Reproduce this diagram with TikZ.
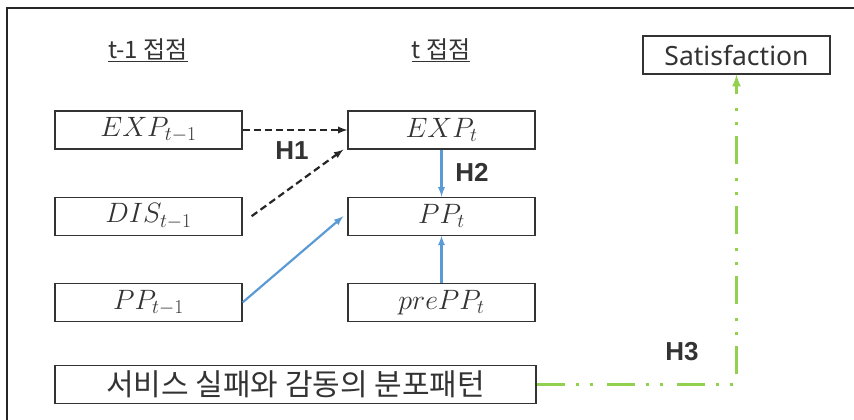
\RequirePackage{fix-cm}
\documentclass[tikz,border=0pt]{standalone}
\usepackage{fontspec}
\setmainfont{Noto Sans}
\newfontfamily\kr{Noto Sans CJK KR}
\newfontfamily\hfont{Liberation Sans}
\usetikzlibrary{positioning}
\definecolor{ppblue}{HTML}{5B9BD5}
\definecolor{hgreen}{HTML}{92D050}
\definecolor{txtgray}{HTML}{333333}
\tikzset{
	varbox/.style={draw=black!80,line width=1.2pt,minimum width=187pt,minimum height=38pt,inner sep=0pt,text=txtgray,font=\fontsize{28}{32}\selectfont},
	hyplabel/.style={text=txtgray,font=\hfont\fontsize{26}{30}\selectfont\bfseries},
	headlabel/.style={text=txtgray,font=\kr\fontsize{24}{28}\selectfont},
	darrow/.style={->,line width=2.2pt,black!85,dash pattern=on 7pt off 4pt},
	barrow/.style={->,line width=2.2pt,ppblue},
	garrow/.style={->,line width=3pt,hgreen,dash pattern=on 28pt off 11pt on 3pt off 11pt on 3pt off 14pt}
}
\begin{document}
\begin{tikzpicture}[>=latex,x=1pt,y=-1pt]
		\useasboundingbox (0,0) rectangle (854,420);
		\draw[line width=1.2pt,black!85] (7,420) -- (7,8) -- (854,8);
		\node[headlabel] (hpre) at (148,50) {\underline{t-1 접점}};
		\node[headlabel] (hcur) at (441,50) {\underline{t 접점}};
		\foreach \name/\x/\lab in {exppre/148.5/{EXP_{t-1}},expt/441.5/{EXP_t}}
			{\node[varbox] (\name) at (\x,130) {$\lab$};};
		\node[varbox,below=47pt of exppre] (dispre) {$DIS_{t-1}$};
		\node[varbox,below=47pt of dispre] (pppre) {$PP_{t-1}$};
		\node[varbox,below=47pt of expt] (ppt) {$PP_t$};
		\node[varbox,below=47pt of ppt] (preppt) {$prePP_t$};
		\node[varbox,minimum width=481pt,font=\kr\fontsize{30}{34}\selectfont] (pattern) at (295.5,384.5) {서비스 실패와 감동의 분포패턴};
		\node[varbox,font=\fontsize{26.5}{30}\selectfont] (sat) at (736.5,55) {Satisfaction};
		\node[hyplabel] (h1) at (292,151) {H1};
		\node[hyplabel] (h2) at (472,172) {H2};
		\node[hyplabel] (h3) at (682,352) {H3};
		\draw[darrow] (exppre.east) -- (expt.west);
		\draw[darrow] ([xshift=9pt]dispre.east) -- ([xshift=-4pt]expt.south west);
		\draw[barrow] (pppre.east) -- ([xshift=-4pt]ppt.west);
		\draw[barrow] (expt.south) -- (ppt.north);
		\draw[barrow] (preppt.north) -- (ppt.south);
		\draw[garrow] (pattern.east) -- (sat.south |- pattern.east) -- (sat.south);
\end{tikzpicture}
\end{document}
